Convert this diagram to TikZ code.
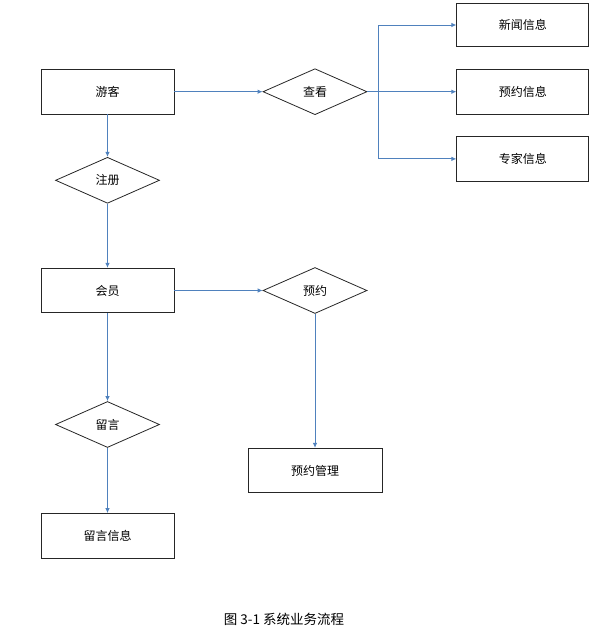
\documentclass[tikz,border=0pt]{standalone}
\usepackage{fontspec}
\setmainfont{Noto Sans CJK SC}
\usetikzlibrary{shapes.geometric,arrows.meta}
\definecolor{linkblue}{RGB}{79,129,189}
\tikzset{
  box/.style={draw=black!85,line width=0.8pt,minimum width=133pt,minimum height=44.5pt,inner sep=0pt,font=\fontsize{12}{14}\selectfont},
  dia/.style={draw=black!85,line width=0.8pt,diamond,minimum width=104pt,minimum height=46pt,inner sep=0pt,font=\fontsize{12}{14}\selectfont},
  link/.style={draw=linkblue,line width=0.9pt,-{Latex[length=5pt,width=4.5pt]}}
}
\begin{document}
\begin{tikzpicture}[x=1pt,y=-1pt]
\useasboundingbox (0,0) rectangle (594,642);
\node[box] (youke) at (107.5,91.7) {游客};
\node[dia] (zhuce) at (107.5,180.3) {注册};
\node[box] (huiyuan) at (107.5,290.5) {会员};
\node[dia] (liuyan) at (107.5,424.5) {留言};
\node[box] (lyxx) at (107.5,535.8) {留言信息};
\node[dia] (chakan) at (315,91.7) {查看};
\node[dia] (yuyue) at (315,290.5) {预约};
\node[box,minimum width=134pt] (yygl) at (315,470.5) {预约管理};
\node[box,minimum width=132pt,minimum height=43.5pt] (xwxx) at (522.8,25) {新闻信息};
\node[box,minimum width=132pt] (yyxx) at (522.8,91.7) {预约信息};
\node[box,minimum width=132pt] (zjxx) at (522.8,158.9) {专家信息};
\coordinate (br) at (378.3,91.7);
\node[font=\fontsize{13.5}{15}\selectfont] (cap) at (284,619) {图 3-1 系统业务流程};
\draw[link] (youke.east) -- (chakan.west);
\draw[link] (youke.south) -- (zhuce.north);
\draw[link] (zhuce.south) -- (huiyuan.north);
\draw[link] (huiyuan.east) -- (yuyue.west);
\draw[link] (huiyuan.south) -- (liuyan.north);
\draw[link] (liuyan.south) -- (lyxx.north);
\draw[link] (yuyue.south) -- (yygl.north);
\draw[link] (chakan.east) -- (yyxx.west);
\draw[link] (br) |- (xwxx.west);
\draw[link] (br) |- (zjxx.west);
\end{tikzpicture}
\end{document}
